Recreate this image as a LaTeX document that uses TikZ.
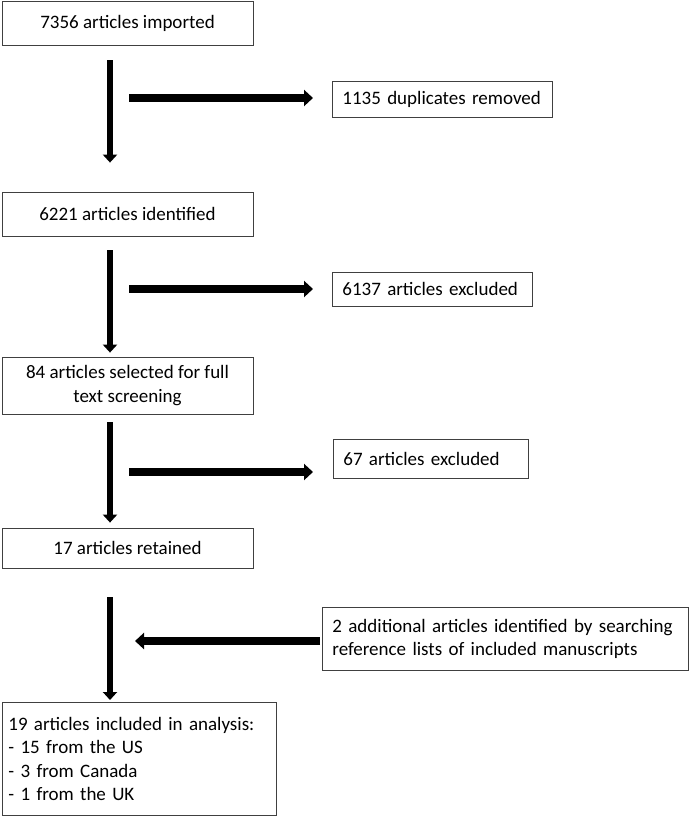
\documentclass[tikz,border=0pt]{standalone}
\usepackage{fontspec}
\setmainfont{Carlito}
\usepackage{tikz}
\usetikzlibrary{arrows.meta}

\begin{document}
\begin{tikzpicture}[x=1pt, y=1pt,
	box/.style={draw=black!75, line width=0.8pt, inner sep=0pt, minimum width=251pt, align=center},
	sidebox/.style={draw=black!75, line width=0.8pt, inner xsep=10pt, inner ysep=0pt, align=left, anchor=west},
	vflow/.style={line width=6pt, -{Triangle[width=14pt, length=8pt]}},
	hflow/.style={line width=8pt, -{Triangle[width=16pt, length=9pt]}}]
					\fontsize{19}{23.5}\selectfont
					\hyphenpenalty=10000
					\useasboundingbox (0,0) rectangle (691,-817);
					\node[box, minimum height=44pt] (imported) at (127.5,-23) {7356 articles imported};
					\node[box, minimum height=44pt] (identified) at (127.5,-214) {6221 articles identified};
					\node[box, minimum height=57pt] (selected) at (127.5,-385.5) {84 articles selected for full\\text screening};
					\node[box, minimum height=40pt] (retained) at (127.5,-548) {17 articles retained};
					\node[draw=black!75, line width=0.8pt, inner xsep=6pt, inner ysep=0pt, text width=262pt, minimum height=113pt, align=left, anchor=north west] (included) at (2,-702) {19 articles included in analysis:\\- 15 from the US\\- 3 from Canada\\- 1 from the UK};
					\node[sidebox, text width=200pt, minimum height=36pt] (duplicates) at (332,-99) {1135 duplicates removed};
					\node[sidebox, text width=180pt, minimum height=34pt] (excluded1) at (332,-289) {6137 articles excluded};
					\node[sidebox, text width=175pt, minimum height=39pt] (excluded2) at (333,-458.5) {67 articles excluded};
					\node[draw=black!75, line width=0.8pt, inner xsep=10pt, inner ysep=0pt, text width=346pt, minimum height=63pt, align=left, anchor=north west] (additional) at (322,-607) {2 additional articles identified by searching\\reference lists of included manuscripts};
					\coordinate (t1) at (129,-98);
					\coordinate (t2) at (129,-289);
					\coordinate (t3) at (129,-472);
					\coordinate (t4) at (135,-641);
					\draw[vflow, shorten <=15pt, shorten >=29pt] ([xshift=-17.5pt]imported.south) -- ([xshift=-17.5pt]identified.north);
					\draw[vflow, shorten <=14pt, shorten >=4pt] ([xshift=-17.5pt]identified.south) -- ([xshift=-17.5pt]selected.north);
					\draw[vflow, shorten <=8pt, shorten >=5pt] ([xshift=-17.5pt]selected.south) -- ([xshift=-17.5pt]retained.north);
					\draw[vflow, shorten <=29pt, shorten >=2pt] ([xshift=-17.5pt]retained.south) -- ([xshift=-17.5pt]retained.south |- included.north);
					\draw[hflow, shorten >=19pt] (t1) -- (t1 -| duplicates.west);
					\draw[hflow, shorten >=19pt] (t2) -- (t2 -| excluded1.west);
					\draw[hflow, shorten >=20pt] (t3) -- (t3 -| excluded2.west);
					\draw[hflow, shorten <=2pt] (t4 -| additional.west) -- (t4);
\end{tikzpicture}
\end{document}
